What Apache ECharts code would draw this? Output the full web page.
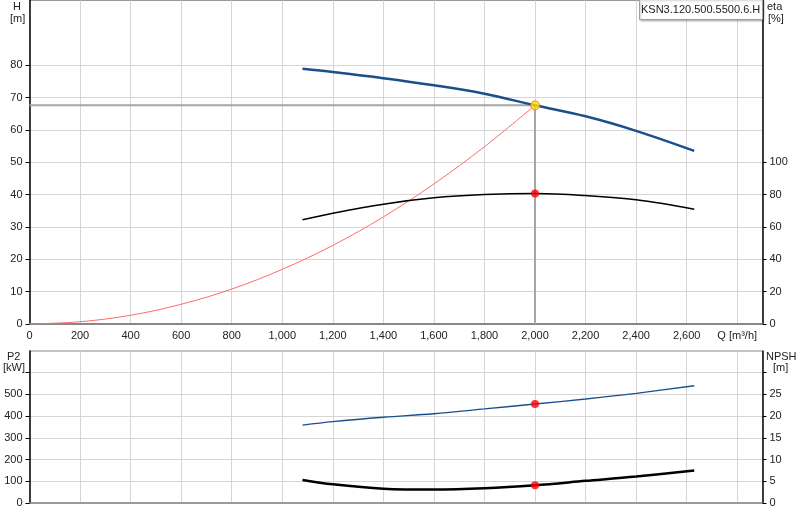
<!DOCTYPE html>
<html>
<head>
<meta charset="utf-8">
<script src="https://cdn.jsdelivr.net/npm/echarts/dist/echarts.min.js"></script>
<style>
  html, body { margin: 0; padding: 0; background: #fff; }
  #chart { width: 800px; height: 520px; }
</style>
</head>
<body>
<div id="chart"></div>
<script>
// flow axis ticks (m3/h)
var qTicks = [0, 200, 400, 600, 800, 1000, 1200, 1400, 1600, 1800, 2000, 2200, 2400, 2600, 2800];
var hTicks = [0, 10, 20, 30, 40, 50, 60, 70, 80];
var etaTicks = [0, 20, 40, 60, 80, 100];
var p2Ticks = [0, 100, 200, 300, 400, 500];
var npshTicks = [0, 5, 10, 15, 20, 25];

// pump curves
var pumpQ = [1080, 1200, 1400, 1600, 1800, 2000, 2200, 2400, 2630];
var headH = [78.9, 77.9, 76.0, 73.8, 71.2, 67.6, 64.2, 59.7, 53.5];
var etaPct = [64.4, 68.5, 74.1, 78.0, 80.0, 80.7, 79.4, 76.8, 71.0];
var powerP2 = [359, 375, 395, 411, 433, 456, 479, 505, 540];
var npshM = [5.3, 4.3, 3.3, 3.1, 3.4, 4.1, 5.1, 6.1, 7.5];

// system curve
var sysQ = [0, 200, 400, 600, 800, 1000, 1200, 1400, 1600, 1800, 2000];
var sysH = [0, 0.7, 2.7, 6.1, 10.8, 16.9, 24.3, 33.1, 43.3, 54.8, 67.6];

// duty point
var dutyQ = 2000;
var dutyH = 67.6;
var dutyEta = 80.7;
var dutyP2 = 456;
var dutyNpsh = 4.1;

var FONT = '"Liberation Sans", Arial, sans-serif';
var GRID_C = '#d6d6d6';
var BLUE = '#1b4f8c';
var SMOOTH = 0.35;

function zip(xs, ys) {
  return xs.map(function (x, i) { return [x, ys[i]]; });
}

function yAx(grid, pos, max, step, ticks, tickMax, split) {
  var tickVals = [];
  for (var v = 0; v <= tickMax + 1e-9; v += step) tickVals.push(v);
  return {
    type: 'value', gridIndex: grid, position: pos,
    min: 0, max: max, interval: step,
    axisLine: { show: true, lineStyle: { color: '#000', width: 1.5 } },
    axisTick: { show: true, length: 4, customValues: tickVals, lineStyle: { color: '#000' } },
    axisLabel: { customValues: ticks, color: '#222', fontSize: 11, fontFamily: FONT, margin: 7 },
    splitLine: { show: split, lineStyle: { color: GRID_C, width: 1 } }
  };
}

var chart = echarts.init(document.getElementById('chart'));

chart.setOption({
  backgroundColor: '#fff',
  animation: false,
  grid: [
    { left: 29.5, right: 37.5, top: 0.5, height: 323.5, show: true, borderColor: '#999', borderWidth: 1 },
    { left: 29.5, right: 37.5, top: 351, height: 152, show: true, borderColor: '#888', borderWidth: 1 }
  ],
  xAxis: [
    {
      type: 'value', gridIndex: 0, min: 0, max: 2900, interval: 200,
      axisLine: { lineStyle: { color: '#888', width: 2 } },
      axisTick: { show: false },
      axisLabel: {
        customValues: qTicks, color: '#222', fontSize: 11, fontFamily: FONT, margin: 6,
        formatter: function (v) { return v === 2800 ? 'Q [m³/h]' : v.toLocaleString('en-US'); }
      },
      splitLine: { show: true, lineStyle: { color: GRID_C, width: 1 } }
    },
    {
      type: 'value', gridIndex: 1, min: 0, max: 2900, interval: 200,
      axisLine: { lineStyle: { color: '#888', width: 1.5 } },
      axisTick: { show: false },
      axisLabel: { show: false },
      splitLine: { show: true, lineStyle: { color: GRID_C, width: 1 } }
    }
  ],
  yAxis: [
    yAx(0, 'left', 100, 10, hTicks, 80, true),
    yAx(0, 'right', 200, 20, etaTicks, 100, false),
    yAx(1, 'left', 700, 100, p2Ticks, 600, true),
    yAx(1, 'right', 35, 5, npshTicks, 30, false)
  ],
  series: [
    {
      type: 'line', xAxisIndex: 0, yAxisIndex: 0, z: 2,
      data: [[0, dutyH], [dutyQ, dutyH], [dutyQ, 0]],
      symbol: 'none', lineStyle: { color: '#a6a6a6', width: 2 }
    },
    {
      type: 'line', xAxisIndex: 0, yAxisIndex: 0, z: 3,
      data: zip(sysQ, sysH), smooth: SMOOTH, symbol: 'none',
      lineStyle: { color: '#ff6b6b', width: 1 }
    },
    {
      type: 'line', xAxisIndex: 0, yAxisIndex: 0, z: 4,
      data: zip(pumpQ, headH), smooth: SMOOTH, symbol: 'none',
      lineStyle: { color: BLUE, width: 2.5 }
    },
    {
      type: 'line', xAxisIndex: 0, yAxisIndex: 1, z: 4,
      data: zip(pumpQ, etaPct), smooth: SMOOTH, symbol: 'none',
      lineStyle: { color: '#000', width: 1.5 }
    },
    {
      type: 'scatter', xAxisIndex: 0, yAxisIndex: 0, z: 6,
      data: [[dutyQ, dutyH]], symbolSize: 9,
      itemStyle: { color: '#ffe000', borderColor: '#f07030', borderWidth: 1 }
    },
    {
      type: 'scatter', xAxisIndex: 0, yAxisIndex: 1, z: 6,
      data: [[dutyQ, dutyEta]], symbolSize: 8, itemStyle: { color: '#ff0000' }
    },
    {
      type: 'line', xAxisIndex: 1, yAxisIndex: 2, z: 4,
      data: zip(pumpQ, powerP2), smooth: SMOOTH, symbol: 'none',
      lineStyle: { color: BLUE, width: 1.3 }
    },
    {
      type: 'line', xAxisIndex: 1, yAxisIndex: 3, z: 4,
      data: zip(pumpQ, npshM), smooth: SMOOTH, symbol: 'none',
      lineStyle: { color: '#000', width: 2.5 }
    },
    {
      type: 'scatter', xAxisIndex: 1, yAxisIndex: 2, z: 6,
      data: [[dutyQ, dutyP2]], symbolSize: 8, itemStyle: { color: '#ff0000' }
    },
    {
      type: 'scatter', xAxisIndex: 1, yAxisIndex: 3, z: 6,
      data: [[dutyQ, dutyNpsh]], symbolSize: 8, itemStyle: { color: '#ff0000' }
    }
  ],
  graphic: [
    { type: 'text', left: 13, top: 1, style: { text: 'H', font: '11px ' + FONT, fill: '#222' } },
    { type: 'text', left: 10, top: 13, style: { text: '[m]', font: '11px ' + FONT, fill: '#222' } },
    { type: 'text', left: 767, top: 1, style: { text: 'eta', font: '11px ' + FONT, fill: '#222' } },
    { type: 'text', left: 768, top: 13, style: { text: '[%]', font: '11px ' + FONT, fill: '#222' } },
    { type: 'text', left: 7, top: 351, style: { text: 'P2', font: '11px ' + FONT, fill: '#222' } },
    { type: 'text', left: 3, top: 362, style: { text: '[kW]', font: '11px ' + FONT, fill: '#222' } },
    { type: 'text', left: 766, top: 351, style: { text: 'NPSH', font: '11px ' + FONT, fill: '#222' } },
    { type: 'text', left: 773, top: 362, style: { text: '[m]', font: '11px ' + FONT, fill: '#222' } },
    {
      type: 'rect', left: 639, top: -1, z: 100,
      shape: { width: 123, height: 20 },
      style: { fill: '#fff', stroke: '#a0a0a0', lineWidth: 1, shadowBlur: 2, shadowOffsetX: 1, shadowOffsetY: 1, shadowColor: 'rgba(0,0,0,0.25)' }
    },
    {
      type: 'text', left: 641, top: 4, z: 101,
      style: { text: 'KSN3.120.500.5500.6.H', font: '11px ' + FONT, fill: '#222' }
    }
  ]
});
</script>
</body>
</html>
